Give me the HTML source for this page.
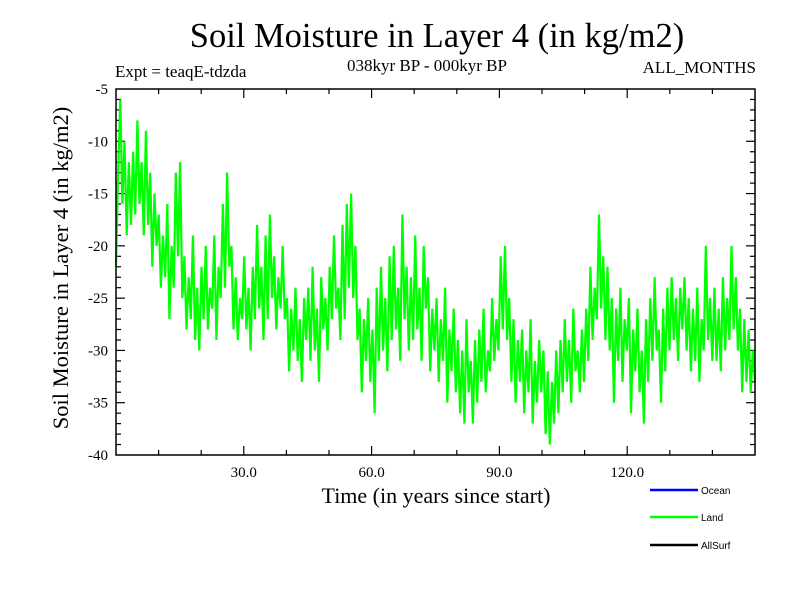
<!DOCTYPE html>
<html><head><meta charset="utf-8"><style>
html,body{margin:0;padding:0;background:#fff;}
svg{display:block;font-family:"Liberation Serif",serif;}
</style></head><body>
<svg id="chart" width="800" height="600" viewBox="0 0 800 600" xmlns="http://www.w3.org/2000/svg">
<rect width="800" height="600" fill="#fff"/>
<text x="437" y="47" font-size="34.5" text-anchor="middle">Soil Moisture in Layer 4 (in kg/m2)</text>
<text x="115" y="77" font-size="17">Expt = teaqE-tdzda</text>
<text x="427" y="71" font-size="17" text-anchor="middle">038kyr BP - 000kyr BP</text>
<text x="756" y="73" font-size="17" text-anchor="end">ALL_MONTHS</text>
<text transform="translate(68,268) rotate(-90)" font-size="22.5" text-anchor="middle">Soil Moisture in Layer 4 (in kg/m2)</text>
<text x="436" y="503" font-size="22" text-anchor="middle">Time (in years since start)</text>
<g id="ticks"></g>
<g id="series"></g>
<rect x="116" y="89" width="639" height="366" fill="none" stroke="#000" stroke-width="1.5"/>
<g font-family="'Liberation Sans',sans-serif" font-size="10">
<line x1="650" y1="490" x2="698" y2="490" stroke="#0000ff" stroke-width="2.5"/>
<text x="701" y="494">Ocean</text>
<line x1="650" y1="517" x2="698" y2="517" stroke="#00ff00" stroke-width="2.5"/>
<text x="701" y="521">Land</text>
<line x1="650" y1="545" x2="698" y2="545" stroke="#000" stroke-width="2.5"/>
<text x="701" y="549">AllSurf</text>
</g>
</svg>
<script>
const xTickLabels = [30, 60, 90, 120];
const yTickLabels = [-5, -10, -15, -20, -25, -30, -35, -40];
const landValues = [
-22,-13,-6,-16,-10,-19,-12,-18,-11,-17,
-8,-16,-12,-19,-9,-18,-13,-22,-15,-20,
-17,-24,-19,-23,-16,-27,-20,-24,-13,-21,
-12,-25,-21,-28,-23,-27,-19,-29,-24,-30,
-22,-27,-20,-28,-24,-26,-19,-29,-22,-25,
-16,-24,-13,-22,-20,-28,-23,-29,-25,-27,
-21,-28,-24,-30,-22,-27,-18,-26,-22,-29,
-19,-27,-17,-25,-21,-28,-23,-26,-20,-27,
-25,-32,-26,-30,-24,-31,-27,-33,-25,-29,
-24,-31,-22,-30,-26,-33,-23,-28,-25,-30,
-22,-27,-19,-26,-24,-29,-18,-27,-16,-24,
-15,-25,-20,-29,-26,-34,-27,-31,-25,-33,
-28,-36,-24,-31,-22,-30,-25,-32,-21,-29,
-20,-28,-24,-31,-17,-27,-22,-30,-23,-29,
-19,-28,-24,-31,-20,-26,-23,-32,-26,-30,
-25,-33,-27,-31,-24,-35,-28,-32,-26,-34,
-29,-36,-30,-37,-27,-34,-31,-37,-29,-35,
-28,-33,-26,-34,-30,-32,-25,-31,-27,-30,
-21,-28,-20,-29,-25,-33,-27,-35,-29,-33,
-28,-36,-30,-34,-27,-37,-31,-35,-29,-34,
-30,-38,-32,-39,-33,-37,-30,-36,-29,-34,
-27,-33,-29,-35,-26,-32,-30,-34,-28,-33,
-26,-31,-22,-29,-24,-27,-17,-26,-21,-29,
-22,-30,-25,-35,-26,-31,-24,-33,-27,-30,
-25,-36,-28,-32,-26,-34,-30,-37,-27,-33,
-25,-31,-23,-30,-28,-35,-26,-32,-24,-30,
-23,-29,-25,-31,-24,-28,-23,-30,-25,-32,
-26,-31,-24,-33,-27,-30,-20,-29,-25,-31,
-24,-31,-26,-32,-23,-30,-25,-29,-20,-28,
-23,-30,-26,-34,-27,-33,-28,-34,-30,-33
];
const X0 = 116, X1 = 755, Y0 = 89, Y1 = 455;
const xMin = 0, xMax = 150, yMin = -40, yMax = -5;
function xScale(v){ return X0 + (v - xMin) / (xMax - xMin) * (X1 - X0); }
function yScale(v){ return Y1 - (v - yMin) / (yMax - yMin) * (Y1 - Y0); }
const NS = "http://www.w3.org/2000/svg";
const ticks = document.getElementById('ticks');
function mk(tag, attrs, parent){ const e = document.createElementNS(NS, tag); for (const k in attrs) e.setAttribute(k, attrs[k]); parent.appendChild(e); return e; }
for (let v = 10; v < xMax; v += 10) {
  const major = v % 30 === 0;
  const L = major ? 9 : 5;
  const x = xScale(v);
  const t1 = mk('line', {x1:x, y1:Y1, x2:x, y2:Y1 - L, stroke:'#000', 'stroke-width':1.2}, ticks);
  
  
  const t2 = mk('line', {x1:x, y1:Y0, x2:x, y2:Y0 + L, stroke:'#000', 'stroke-width':1.2}, ticks);
  
  
}
xTickLabels.forEach(v => {
  const t = mk('text', {x:xScale(v), y:Y1 + 22, 'font-size':15, 'text-anchor':'middle'}, ticks);
  t.textContent = v.toFixed(1);
  
  
});
for (let v = yMin + 1; v < yMax; v += 1) {
  const major = v % 5 === 0;
  const L = major ? 9 : 5;
  const y = yScale(v);
  const a = mk('line', {x1:X0, y1:y, x2:X0 + L, y2:y, stroke:'#000', 'stroke-width':1.2}, ticks);
  
  
  const b = mk('line', {x1:X1, y1:y, x2:X1 - L, y2:y, stroke:'#000', 'stroke-width':1.2}, ticks);
  
  
}
yTickLabels.forEach(v => {
  const t = mk('text', {x:X0 - 8, y:yScale(v) + 5, 'font-size':15, 'text-anchor':'end'}, ticks);
  t.textContent = String(v);
  
  
});
const n = landValues.length;
const pts = landValues.map((v, i) => xScale(xMin + i * (xMax - xMin) / (n - 1)).toFixed(1) + ',' + yScale(v).toFixed(1)).join(' ');
const line = mk('polyline', {points:pts, fill:'none', stroke:'#00ff00', 'stroke-width':2.2, 'stroke-linejoin':'miter'}, document.getElementById('series'));


</script>
</body></html>
